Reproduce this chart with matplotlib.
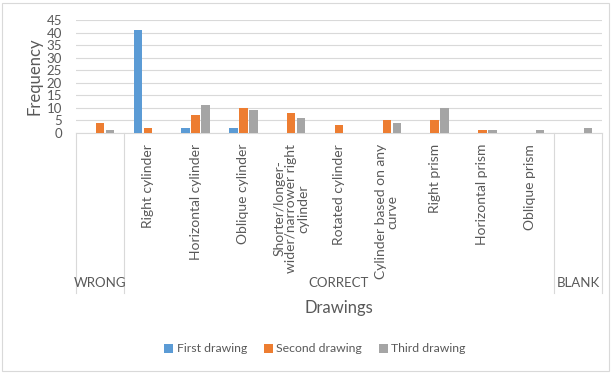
import numpy as np
import matplotlib.pyplot as plt
from matplotlib.patches import Rectangle
from matplotlib.transforms import blended_transform_factory

# drawing categories (empty ones belong to the WRONG / BLANK groups)
categories = ["", "Right cylinder", "Horizontal cylinder", "Oblique cylinder",
              "Shorter/longer-\nwider/narrower right\ncylinder", "Rotated cylinder",
              "Cylinder based on any\ncurve", "Right prism", "Horizontal prism",
              "Oblique prism", ""]
groups = ["WRONG", "CORRECT", "BLANK"]
group_spans = [(0, 0), (1, 9), (10, 10)]

first = [0, 41, 2, 2, 0, 0, 0, 0, 0, 0, 0]
second = [4, 2, 7, 10, 8, 3, 5, 5, 1, 0, 0]
third = [1, 0, 11, 9, 6, 0, 4, 10, 1, 1, 2]

series = [("First drawing", first, "#5B9BD5"),
          ("Second drawing", second, "#ED7D31"),
          ("Third drawing", third, "#A5A5A5")]

W, H = 611, 373
txt = "#595959"
plt.rcParams['font.family'] = ['Lato', 'DejaVu Sans']

fig = plt.figure(figsize=(W / 100, H / 100), dpi=100)
ax = fig.add_axes([76 / W, (H - 133) / H, (602 - 76) / W, (133 - 20) / H])

x = np.arange(len(categories))
bw = 0.175
step = 0.21
for i, (name, vals, col) in enumerate(series):
    ax.bar(x + (i - 1) * step, vals, width=bw, color=col, label=name, zorder=3)

ax.set_xlim(-0.5, len(categories) - 0.5)
ax.set_ylim(0, 45)
ax.set_yticks(range(0, 46, 5))
ax.yaxis.grid(True, color="#D9D9D9", linewidth=0.8, zorder=0)
ax.tick_params(axis='y', length=0, labelsize=9.5, labelcolor=txt, pad=10)
ax.set_xticks([])
for s in ["left", "right", "top"]:
    ax.spines[s].set_visible(False)
ax.spines["bottom"].set_color("#D9D9D9")
ax.set_ylabel("Frequency", fontsize=12, color=txt, labelpad=3)

# two-level category axis drawn under the plot
tr = blended_transform_factory(ax.transData, fig.transFigure)
y_top = (H - 133) / H
y_bot = (H - 293) / H
for b in [-0.5, 0.5, 9.5, 10.5]:
    ax.plot([b, b], [y_top, y_bot], transform=tr, color="#D9D9D9",
            linewidth=0.8, clip_on=False)

for xi, lab in zip(x, categories):
    if lab:
        ax.text(xi, (H - 144) / H, lab, transform=tr, rotation=90, ha='center',
                va='top', multialignment='center', fontsize=10, color=txt,
                linespacing=1.0)

for g, (a, b) in zip(groups, group_spans):
    ax.text((a + b) / 2, (H - 283) / H, g, transform=tr, ha='center',
            va='center', fontsize=9.5, color=txt)

fig.text((76 + 602) / 2 / W, (H - 308) / H, "Drawings", ha='center',
         va='center', fontsize=12, color=txt)

fig.legend(loc='center', bbox_to_anchor=(315 / W, (H - 349) / H), ncol=3,
           frameon=False, fontsize=8.8, labelcolor=txt, handlelength=0.7,
           handleheight=0.7, handletextpad=0.3, columnspacing=1.4)

fig.patches.append(Rectangle((1.5 / W, 2.5 / H), (W - 4) / W, (H - 5) / H,
                             transform=fig.transFigure, fill=False,
                             edgecolor="#D9D9D9", linewidth=0.8))

fig.savefig("out.png", dpi=100)
